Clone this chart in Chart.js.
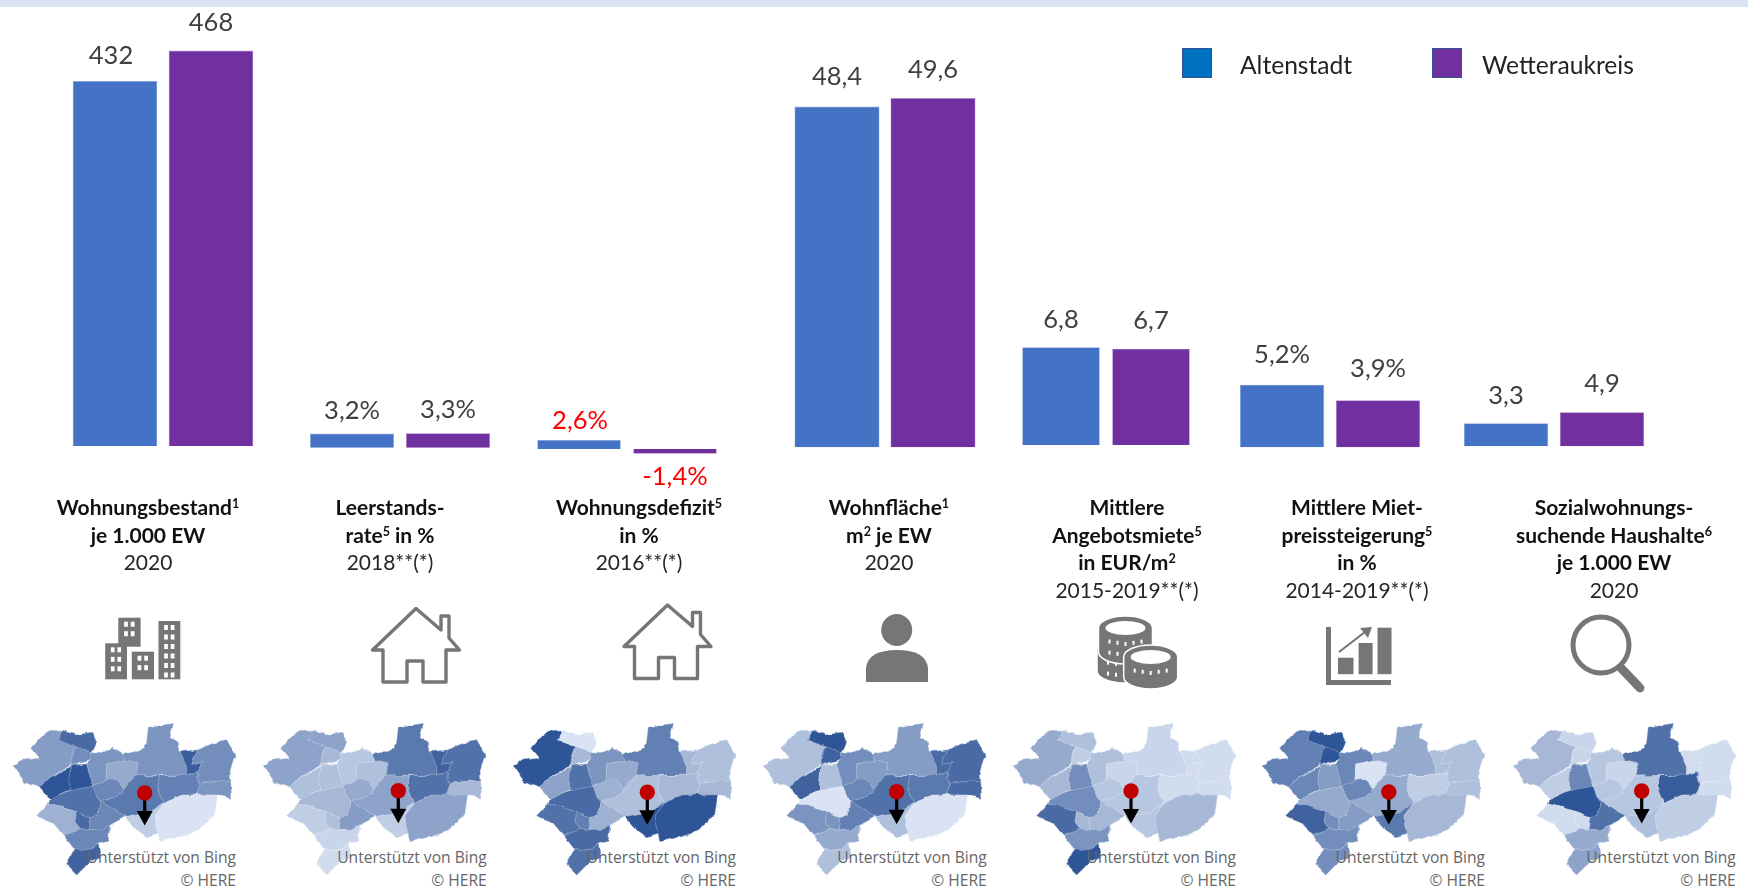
<!DOCTYPE html>
<html lang="de"><head><meta charset="utf-8">
<script src="https://cdn.jsdelivr.net/npm/chart.js@4"></script>
<style>
html,body{margin:0;padding:0;background:#fff;width:1748px;height:895px;overflow:hidden;font-family:Lato,sans-serif}
#band{position:absolute;left:0;top:0;width:1748px;height:7px;background:#DAE3F3}
canvas{position:absolute}
svg{position:absolute;left:0;top:0}
.cap{position:absolute;text-align:center;transform:translateX(-50%);white-space:nowrap;font-size:21px;color:#262626;line-height:27.7px;top:493px}
.cap b{font-weight:700;color:#111}
.cap sup{font-size:.6em;line-height:0;vertical-align:.55em}
.leg{position:absolute;font-size:24.6px;color:#222;top:49px;line-height:32px}
.sw{position:absolute;width:28px;height:28px;top:48px;border:1.5px solid #2F528F}
.att{position:absolute;text-align:right;font-family:"Open Sans",sans-serif;font-size:15.6px;color:#666;line-height:23px;top:846px;transform:translateX(-100%);white-space:nowrap}
</style></head><body>
<div id="band"></div>
<svg id="art" width="1748" height="895" viewBox="0 0 1748 895"></svg>
<script>
// ---------- data ----------
const seriesNames = ["Altenstadt","Wetteraukreis"];
const altenstadt   = [432, 3.2, 2.6, 48.4, 6.8, 5.2, 3.3];
const wetteraukreis= [468, 3.3, -1.4, 49.6, 6.7, 3.9, 4.9];
const suffixes     = ["", "%", "%", "", "", "%", ""];
const labelColors  = ["#404040","#404040","#FF0000","#404040","#404040","#404040","#404040"];
const captions = [
 ["Wohnungsbestand<sup>1</sup>","je 1.000 EW"],
 ["Leerstands-","rate<sup>5</sup> in %"],
 ["Wohnungsdefizit<sup>5</sup>","in %"],
 ["Wohnfläche<sup>1</sup>","m<sup>2</sup> je EW"],
 ["Mittlere","Angebotsmiete<sup>5</sup>","in EUR/m<sup>2</sup>"],
 ["Mittlere Miet-","preissteigerung<sup>5</sup>","in %"],
 ["Sozialwohnungs-","suchende Haushalte<sup>6</sup>","je 1.000 EW"]];
const periods = ["2020","2018**(*)","2016**(*)","2020","2015-2019**(*)","2014-2019**(*)","2020"];

// ---------- layout of the panels ----------
const firstCentre = [115.3,352.2,579,837.2,1061,1281.5,1505.8];
const barStep     = [96,96,96,96,90,96,96];
const barWidth    = [84.6,84.2,83.5,85,77.6,84.3,84.4];
const baseline    = [446,447.7,449,447.3,445,447.3,446.3];
const pxPerUnit   = [.845,4.4,3.46,7.04,14.37,12.04,6.97];
const labelGap    = [[25,28],[23,23],[19,23],[30,28],[28,28],[30,32],[28,28]];
const labelShift  = [[-4,0],[0,0],[1,0],[0,0],[0,0],[0,0],[0,0]];
const captionX    = [148,390,639,889,1127,1357,1614];
const canvasH = 500;

const valueLabels = {
  id:'valueLabels',
  afterDatasetsDraw(chart,_,o){
    const ctx=chart.ctx; ctx.save();
    ctx.font='25.5px Lato'; ctx.textAlign='center'; ctx.textBaseline='middle'; ctx.fillStyle=o.color;
    chart.data.datasets.forEach((ds,i)=>{
      const el=chart.getDatasetMeta(i).data[0], v=ds.data[0];
      const y = v>=0 ? el.y-o.gap[i] : el.y+o.gap[i];
      ctx.fillText(v.toLocaleString('de-DE')+o.suffix, el.x+o.shift[i], y);
    });
    ctx.restore();
  }
};
Chart.register(valueLabels);

altenstadt.forEach((_,g)=>{
  const c=document.createElement('canvas');
  const W=barStep[g]*2;
  c.width=W;c.height=canvasH;
  c.style.left=Math.round(firstCentre[g]-barStep[g]/2)+'px';c.style.top='0px';
  c.style.width=W+'px';c.style.height=canvasH+'px';
  document.body.appendChild(c);
  new Chart(c,{type:'bar',
    data:{labels:[captions[g][0].replace(/<[^>]+>.*?<[^>]+>/g,'')],datasets:[
      {label:seriesNames[0],data:[altenstadt[g]],backgroundColor:'#4472C4',borderColor:'#8FAADC',borderWidth:.6},
      {label:seriesNames[1],data:[wetteraukreis[g]],backgroundColor:'#7030A0',borderColor:'#B18FD0',borderWidth:.6}]},
    options:{responsive:false,animation:false,devicePixelRatio:1,
      layout:{padding:0},
      datasets:{bar:{categoryPercentage:1,barPercentage:barWidth[g]/barStep[g]}},
      plugins:{legend:{display:false},tooltip:{enabled:false},
        valueLabels:{color:labelColors[g],gap:labelGap[g],shift:labelShift[g],suffix:suffixes[g]}},
      scales:{
        x:{display:false},
        y:{display:false,min:-(canvasH-baseline[g])/pxPerUnit[g],max:baseline[g]/pxPerUnit[g]}}}});
  const d=document.createElement('div');d.className='cap';d.style.left=captionX[g]+'px';
  d.innerHTML=captions[g].map(l=>'<b>'+l+'</b>').join('<br>')+'<br>'+periods[g];
  document.body.appendChild(d);
});

// legend
[[1182,1240,'#0070C0'],[1432,1482,'#7030A0']].forEach((p,i)=>{
  const s=document.createElement('div');s.className='sw';s.style.left=p[0]+'px';s.style.background=p[2];document.body.appendChild(s);
  const t=document.createElement('div');t.className='leg';t.style.left=p[1]+'px';t.textContent=seriesNames[i];document.body.appendChild(t);
});

// ---------- decorative icons ----------
const GR='#767676';let svg='';
function bld(x,y,w,h,rows){
  svg+=`<rect x="${x}" y="${y}" width="${w}" height="${h}" fill="${GR}"/>`;
  for(let r=0;r<rows;r++)for(let k=0;k<2;k++)
    svg+=`<rect x="${x+w*(.26+k*.3)}" y="${y+4+r*9.5}" width="${w*.17}" height="5" fill="#fff"/>`;
}
bld(118.3,617.7,22.3,29,2);bld(105.2,643.3,21.8,36,3);bld(131.8,651.7,22.2,27.6,2);bld(158.5,621,21.8,58.3,6);
const house='M416,608.5 L372.5,650 L383,650 L383,682 L407,682 L407,661 L423,661 L423,682 L446,682 L446,650 L459.5,650 L449,638 L449,616 L441,616 L441,630 Z';
svg+=`<path d="${house}" fill="none" stroke="${GR}" stroke-width="3.4" stroke-linejoin="round"/>`;
svg+=`<path d="${house}" transform="translate(251.5,-3.5)" fill="none" stroke="${GR}" stroke-width="3.4" stroke-linejoin="round"/>`;
svg+=`<ellipse cx="896.7" cy="630" rx="15.5" ry="16" fill="${GR}"/><path d="M866,682 L866,668 Q868,650 897,650 Q926,650 928,668 L928,682 Z" fill="${GR}"/>`;
function coin(cx,cy,n){
  svg+=`<path d="M${cx-27},${cy} A27,12 0 0 1 ${cx+27},${cy} V${cy+n} A27,12 0 0 1 ${cx-27},${cy+n} Z" fill="${GR}" stroke="#fff" stroke-width="1.5"/>`;
  svg+=`<ellipse cx="${cx}" cy="${cy}" rx="20" ry="7" fill="#fff"/>`;
  for(let b=10;b<n;b+=11)for(let k=-2;k<=2;k++)
    svg+=`<rect x="${cx+k*8-1}" y="${cy+b+4-Math.abs(k)*1.2}" width="2" height="4" fill="#fff"/>`;
}
coin(1124,649,22);coin(1125.5,628,24);coin(1150.7,657,20);
svg+=`<path fill="${GR}" d="M1326,627 h5 v53 h60 v5 h-65 Z"/><rect x="1338" y="657.7" width="15.5" height="16.5" fill="${GR}"/><rect x="1358.6" y="643" width="14" height="31.2" fill="${GR}"/><rect x="1377.5" y="627.7" width="14" height="46.5" fill="${GR}"/>`;
svg+=`<path d="M1339,652 L1365,632" stroke="${GR}" stroke-width="2.2" fill="none"/><path d="M1360,628 L1372,627 L1368,638 Z" fill="${GR}"/>`;
svg+=`<circle cx="1601" cy="645" r="28" fill="none" stroke="${GR}" stroke-width="5"/><path d="M1621,668 L1640,688" stroke="${GR}" stroke-width="9" stroke-linecap="round"/>`;

// ---------- decorative small maps ----------
const regions=[
"40,200 70,180 120,175 95,145 120,115 150,92 185,90 172,120 228,140 210,195 115,260 70,240",
"185,90 230,105 275,97 290,125 275,158 228,140 172,120",
"228,140 275,158 272,180 212,198 210,195",
"115,260 212,198 208,270 150,298",
"212,198 260,192 280,258 208,272",
"272,180 275,155 310,158 340,145 370,165 375,180 320,192 318,240 280,258 260,192",
"320,192 375,180 418,188 405,228 372,268 345,240 318,240",
"370,165 375,155 415,155 440,130 445,85 490,75 520,70 510,110 535,125 540,155 560,200 560,225 500,225 405,228 418,188 375,180",
"540,155 590,150 575,190 610,185 590,215 560,225 560,200",
"590,150 640,130 680,122 705,165 690,210 692,240 600,250 590,215 610,185 575,190",
"600,250 692,240 695,295 650,285 590,285",
"480,228 560,225 590,215 600,250 590,285 550,285 490,310 470,260",
"300,305 350,290 372,268 405,228 480,228 470,260 490,310 450,335 375,350 330,320",
"280,258 318,240 345,240 372,268 350,290 300,305",
"150,298 208,272 280,258 300,305 295,345 270,350 230,335 145,312",
"145,312 230,335 225,365 240,385 190,405 160,370 110,350",
"230,335 270,350 265,392 240,385 225,365",
"300,305 330,320 375,350 330,375 300,390 265,392 270,350 295,345",
"190,405 240,385 265,392 300,390 330,375 325,420 295,428 270,445 225,450",
"225,450 270,445 295,430 300,470 270,485 230,525 200,495",
"375,350 450,335 490,310 465,345 475,400 440,410 415,395",
"490,310 550,285 590,285 650,285 640,350 610,380 560,405 480,425 475,400 465,345"];
const shades=[
[.5,.85,.6,1,1,.55,.4,.55,.95,.6,.55,.7,.75,.65,.8,.35,.85,.65,.65,.9,.15,0],
[.45,.45,.3,.25,.25,.2,.25,.75,.9,.8,.3,.8,.45,.4,.3,.15,.25,.5,.1,.05,.15,.45],
[1,0,.3,.45,.8,.55,.4,.7,.3,.25,.3,.3,.25,.35,.85,.8,.7,.35,.85,.8,1,1],
[.25,1,.9,.9,.25,.6,.5,.5,.85,.85,.85,.75,.8,.65,0,.55,.55,.7,.4,.25,.25,0],
[.4,.25,.15,.3,.6,.25,.1,.1,.05,.05,.05,.05,.2,.2,.6,.85,.3,.3,.55,1,.2,.3],
[.7,1,1,.65,.5,.65,0,.4,.25,.25,.25,.15,.4,.65,.4,.9,.6,.5,.6,.6,.75,.3],
[.3,.1,.1,.15,.65,.2,.1,.8,.05,.05,.05,.95,.2,.2,1,.05,.05,.8,.4,.45,.25,.15]];
const mapX=[0,250,500,750,1000,1249,1500];
const pinX=[144.7,398.3,647.3,896.7,1131,1388.8,1641.7];
const pinY=[793,790.7,792.3,791.7,791,792,791];
const attR=[236,486.7,736,986.7,1236,1485,1735.7];
const mix=t=>`rgb(${[[218,47],[227,85],[243,151]].map(c=>Math.round(c[0]+(c[1]-c[0])*t)).join(',')})`;
svg+=`<defs><filter id="soft" x="-5%" y="-5%" width="110%" height="110%"><feTurbulence type="fractalNoise" baseFrequency=".09" numOctaves="2" seed="4" result="n"/><feDisplacementMap in="SourceGraphic" in2="n" scale="5" xChannelSelector="R" yChannelSelector="G"/><feGaussianBlur stdDeviation=".5"/></filter></defs>`;
shades.forEach((sh,m)=>{
  svg+=`<g filter="url(#soft)" transform="translate(${mapX[m]},700)"><g transform="scale(.3333)">`;
  regions.forEach((r,i)=>svg+=`<polygon points="${r}" fill="${mix(sh[i])}" stroke="${mix(sh[i])}" stroke-width="1"/>`);
  regions.forEach((r,i)=>svg+=`<polygon points="${r}" fill="none" stroke="#fff" stroke-opacity=".28" stroke-width="1.2"/>`);
  svg+='</g></g>';
  const x=pinX[m],y=pinY[m];
  svg+=`<rect x="${x-1.6}" y="${y}" width="3.2" height="20" fill="#000"/><path d="M${x-8},${y+18} h16 L${x},${y+32.5} Z" fill="#000"/><circle cx="${x}" cy="${y}" r="7.7" fill="#C00000"/>`;
  const a=document.createElement('div');a.className='att';a.style.left=attR[m]+'px';
  a.innerHTML='Unterstützt von Bing<br>© HERE';document.body.appendChild(a);
});
document.getElementById('art').innerHTML=svg;
</script>
</body></html>
